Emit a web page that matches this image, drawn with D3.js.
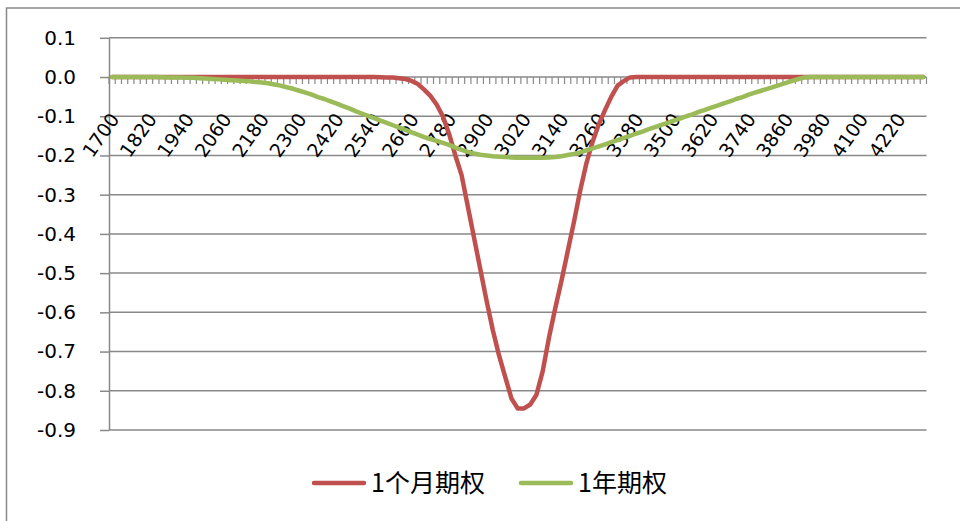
<!DOCTYPE html>
<html>
<head>
<meta charset="utf-8">
<script src="https://cdn.jsdelivr.net/npm/d3@7"></script>
<style>
  body { margin: 0; background: #fff; }
</style>
</head>
<body>
<div id="chart"></div>
<script>
// Category axis: underlying price, one category every 20
const categories = d3.range(1700, 4301, 20);
const labelEvery = 6;

const yTicks = [0.1, 0.0, -0.1, -0.2, -0.3, -0.4, -0.5, -0.6, -0.7, -0.8, -0.9];

const seriesNames = ['1个月期权', '1年期权'];
const seriesColors = ['#C0504D', '#9BBB59'];

// 1-month option
const month1 = [
  0, 0, 0, 0, 0, 0, 0, 0, 0, 0,
  0, 0, 0, 0, 0, 0, 0, 0, 0, 0,
  0, 0, 0, 0, 0, 0, 0, 0, 0, 0,
  0, 0, 0, 0, 0, 0, 0, 0, 0, 0,
  0, 0, 0, -0.0005, -0.001, -0.0015, -0.003, -0.005, -0.010, -0.018,
  -0.032, -0.048, -0.070, -0.100, -0.145, -0.200, -0.250, -0.330, -0.410, -0.490,
  -0.570, -0.645, -0.710, -0.765, -0.820, -0.845, -0.845, -0.835, -0.810, -0.750,
  -0.665, -0.590, -0.520, -0.445, -0.370, -0.290, -0.220, -0.165, -0.120, -0.084,
  -0.050, -0.022, -0.010, -0.001, 0, 0, 0, 0, 0, 0,
  0, 0, 0, 0, 0, 0, 0, 0, 0, 0,
  0, 0, 0, 0, 0, 0, 0, 0, 0, 0,
  0, 0, 0, 0, 0, 0, 0, 0, 0, 0,
  0, 0, 0, 0, 0, 0, 0, 0, 0, 0,
  0
];

// 1-year option
const year1 = [
  0, 0, 0, 0, 0, 0, 0, 0, -0.0005, -0.001,
  -0.001, -0.0015, -0.002, -0.002, -0.003, -0.004, -0.005, -0.006, -0.007, -0.008,
  -0.009, -0.010, -0.011, -0.013, -0.014, -0.016, -0.019, -0.022, -0.026, -0.030,
  -0.035, -0.040, -0.045, -0.051, -0.056, -0.062, -0.068, -0.074, -0.080, -0.087,
  -0.093, -0.099, -0.105, -0.111, -0.117, -0.123, -0.129, -0.135, -0.141, -0.147,
  -0.153, -0.158, -0.163, -0.168, -0.173, -0.180, -0.186, -0.191, -0.195, -0.198,
  -0.200, -0.202, -0.203, -0.204, -0.205, -0.206, -0.206, -0.206, -0.206, -0.206,
  -0.205, -0.204, -0.202, -0.199, -0.196, -0.192, -0.187, -0.182, -0.177, -0.172,
  -0.166, -0.161, -0.155, -0.150, -0.144, -0.139, -0.133, -0.128, -0.122, -0.117,
  -0.111, -0.106, -0.100, -0.095, -0.089, -0.084, -0.078, -0.073, -0.067, -0.062,
  -0.056, -0.051, -0.045, -0.040, -0.035, -0.030, -0.025, -0.020, -0.015, -0.010,
  -0.005, -0.001, 0, 0, 0, 0, 0, 0, 0, 0,
  0, 0, 0, 0, 0, 0, 0, 0, 0, 0,
  0
];

function drawChart() {
  const width = 960;
  const height = 521;
  const plot = { left: 109, right: 926.5, top: 37.8, bottom: 430 };
  const gray = '#898989';
  const axisFont = '"DejaVu Sans", sans-serif';

  const svg = d3.select('#chart')
    .append('svg')
    .attr('width', width)
    .attr('height', height);

  // outer chart border
  svg.append('rect')
    .attr('x', 6.5).attr('y', 8)
    .attr('width', width).attr('height', height)
    .attr('fill', 'none')
    .attr('stroke', gray)
    .attr('stroke-width', 1.5);

  const x = d3.scaleBand()
    .domain(categories)
    .range([plot.left, plot.right])
    .paddingInner(0)
    .paddingOuter(0);
  const cx = c => x(c) + x.bandwidth() / 2;

  const y = d3.scaleLinear()
    .domain([-0.9, 0.1])
    .range([plot.bottom, plot.top]);

  // gridlines
  svg.append('g')
    .selectAll('line')
    .data(yTicks)
    .join('line')
    .attr('x1', plot.left)
    .attr('x2', plot.right)
    .attr('y1', d => y(d))
    .attr('y2', d => y(d))
    .attr('stroke', gray)
    .attr('stroke-width', 1.5);

  // value axis
  const yAxis = svg.append('g')
    .attr('transform', `translate(${plot.left},0)`)
    .call(d3.axisLeft(y)
      .tickValues(yTicks)
      .tickSize(9)
      .tickSizeOuter(0)
      .tickPadding(24)
      .tickFormat(d => d.toFixed(1)));
  yAxis.selectAll('path, line').attr('stroke', gray).attr('stroke-width', 1.5);
  yAxis.selectAll('text')
    .attr('fill', '#000')
    .style('font-family', axisFont)
    .style('font-size', '20px');

  // category axis at zero, ticks between categories
  const y0 = y(0);
  const edges = categories.map(c => x(c)).concat([plot.right]);
  svg.append('g')
    .selectAll('line')
    .data(edges)
    .join('line')
    .attr('x1', d => d).attr('x2', d => d)
    .attr('y1', y0).attr('y2', y0 + 7)
    .attr('stroke', gray)
    .attr('stroke-width', 1.2);

  svg.append('g')
    .selectAll('text')
    .data(categories.filter((c, i) => i % labelEvery === 0))
    .join('text')
    .attr('transform', d => `translate(${cx(d) + 8},${y0 + 42}) rotate(-55)`)
    .attr('text-anchor', 'end')
    .style('font-family', axisFont)
    .style('font-size', '19px')
    .text(d => d);

  // series lines
  const line = d3.line()
    .x((d, i) => cx(categories[i]))
    .y(d => y(d));

  [month1, year1].forEach((s, k) => {
    svg.append('path')
      .datum(s)
      .attr('d', line)
      .attr('fill', 'none')
      .attr('stroke', seriesColors[k])
      .attr('stroke-width', 4.5)
      .attr('stroke-linejoin', 'round')
      .attr('stroke-linecap', 'round');
  });

  // legend
  const legendX = [314, 521];
  const legend = svg.append('g');
  seriesNames.forEach((name, k) => {
    legend.append('line')
      .attr('x1', legendX[k]).attr('x2', legendX[k] + 50)
      .attr('y1', 483).attr('y2', 483)
      .attr('stroke', seriesColors[k])
      .attr('stroke-width', 4.5)
      .attr('stroke-linecap', 'round');
    legend.append('text')
      .attr('x', legendX[k] + 57)
      .attr('y', 492)
      .style('font-family', '"Noto Sans CJK SC", sans-serif')
      .style('font-size', '25px')
      .attr('fill', '#000')
      .text(name);
  });
}

drawChart();
</script>
</body>
</html>
